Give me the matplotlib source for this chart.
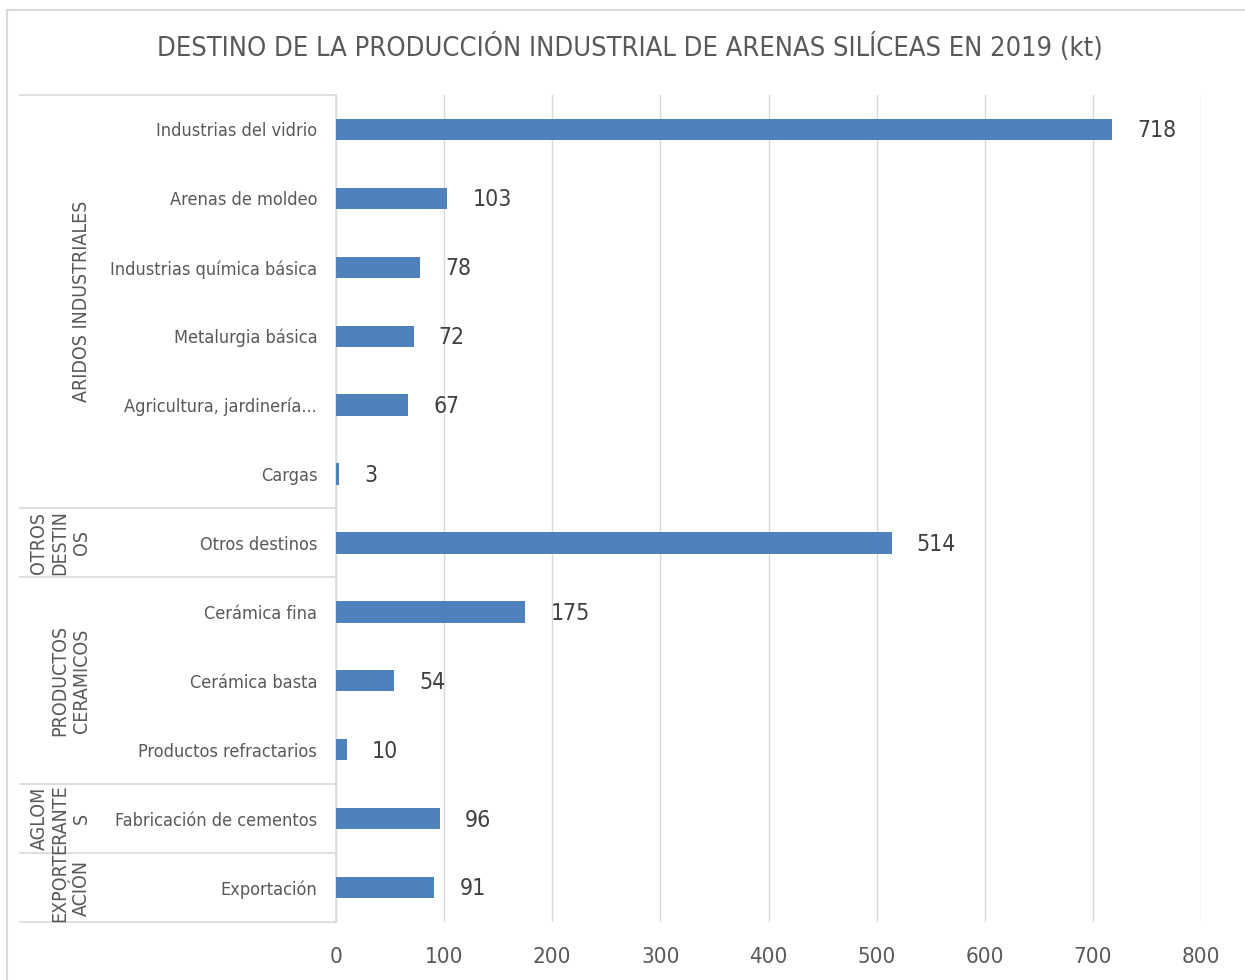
import matplotlib.pyplot as plt
from matplotlib.patches import Rectangle

# data
categories = ['Industrias del vidrio', 'Arenas de moldeo', 'Industrias química básica',
              'Metalurgia básica', 'Agricultura, jardinería...', 'Cargas',
              'Otros destinos',
              'Cerámica fina', 'Cerámica basta', 'Productos refractarios',
              'Fabricación de cementos',
              'Exportación']
values = [718, 103, 78, 72, 67, 3, 514, 175, 54, 10, 96, 91]
groups = ['ARIDOS INDUSTRIALES', 'OTROS\nDESTIN\nOS', 'PRODUCTOS\nCERAMICOS',
          'AGLOM\nERANTE\nS', 'EXPORT\nACIÓN']
group_sizes = [6, 1, 3, 1, 1]
xticks = [0, 100, 200, 300, 400, 500, 600, 700, 800]

title = 'DESTINO DE LA PRODUCCIÓN INDUSTRIAL DE ARENAS SILÍCEAS EN 2019 (kt)'

plt.rcParams['font.family'] = ['DejaVu Sans']
plt.rcParams['font.stretch'] = 'condensed'
txt = '#595959'
grid = '#D9D9D9'
bar_c = '#4F81BD'

fig = plt.figure(figsize=(12.45, 9.8), dpi=100)
W, H = 1245, 980

# chart border (right and bottom edges fall outside the picture)
fig.patches.append(Rectangle((7 / W, -0.05), 1.1, 1 - 10 / H + 0.05,
                             transform=fig.transFigure, fill=False,
                             edgecolor=grid, lw=1.5))

ax = fig.add_axes([336 / W, 1 - 922 / H, 865 / W, 827 / H])
ys = list(range(len(categories)))
ax.barh(ys, values, height=0.31, color=bar_c, zorder=3)
ax.set_ylim(len(categories) - 0.5, -0.5)
ax.set_xlim(0, 800)
ax.set_xticks(xticks)
ax.set_xticklabels([str(t) for t in xticks], fontsize=16, color=txt)
ax.set_yticks(ys)
ax.set_yticklabels(categories, fontsize=13, color=txt)
ax.tick_params(axis='both', length=0)
ax.tick_params(axis='x', pad=18)
ax.tick_params(axis='y', pad=13.5)
ax.grid(axis='x', color=grid, lw=1, zorder=0)
for s in ['top', 'right', 'bottom']:
    ax.spines[s].set_visible(False)
ax.spines['left'].set_color(grid)
ax.spines['left'].set_linewidth(1.2)

for y, v in zip(ys, values):
    ax.annotate(str(v), (v, y), xytext=(18, -1), textcoords='offset points',
                ha='left', va='center', fontsize=16.5, color='#404040')

# multi-level category separators and group labels
tr = ax.get_yaxis_transform()
x_left = (20 - 336) / 865
x_lab = (91 - 336) / 865
bounds = [-0.5]
start = 0
for g, n in zip(groups, group_sizes):
    end = start + n
    bounds.append(end - 0.5)
    ax.text(x_lab, (start + end - 1) / 2, g, transform=tr, rotation=90,
            ha='right', va='center', multialignment='center',
            fontsize=14, color=txt, linespacing=1.15)
    start = end
for b in bounds:
    ax.plot([x_left, 0], [b, b], transform=tr, color=grid, lw=1.2, clip_on=False)

fig.text(630 / W, 1 - 47 / H, title, ha='center', va='center', fontsize=19.5, color=txt)

fig.savefig('out.png', dpi=100)
